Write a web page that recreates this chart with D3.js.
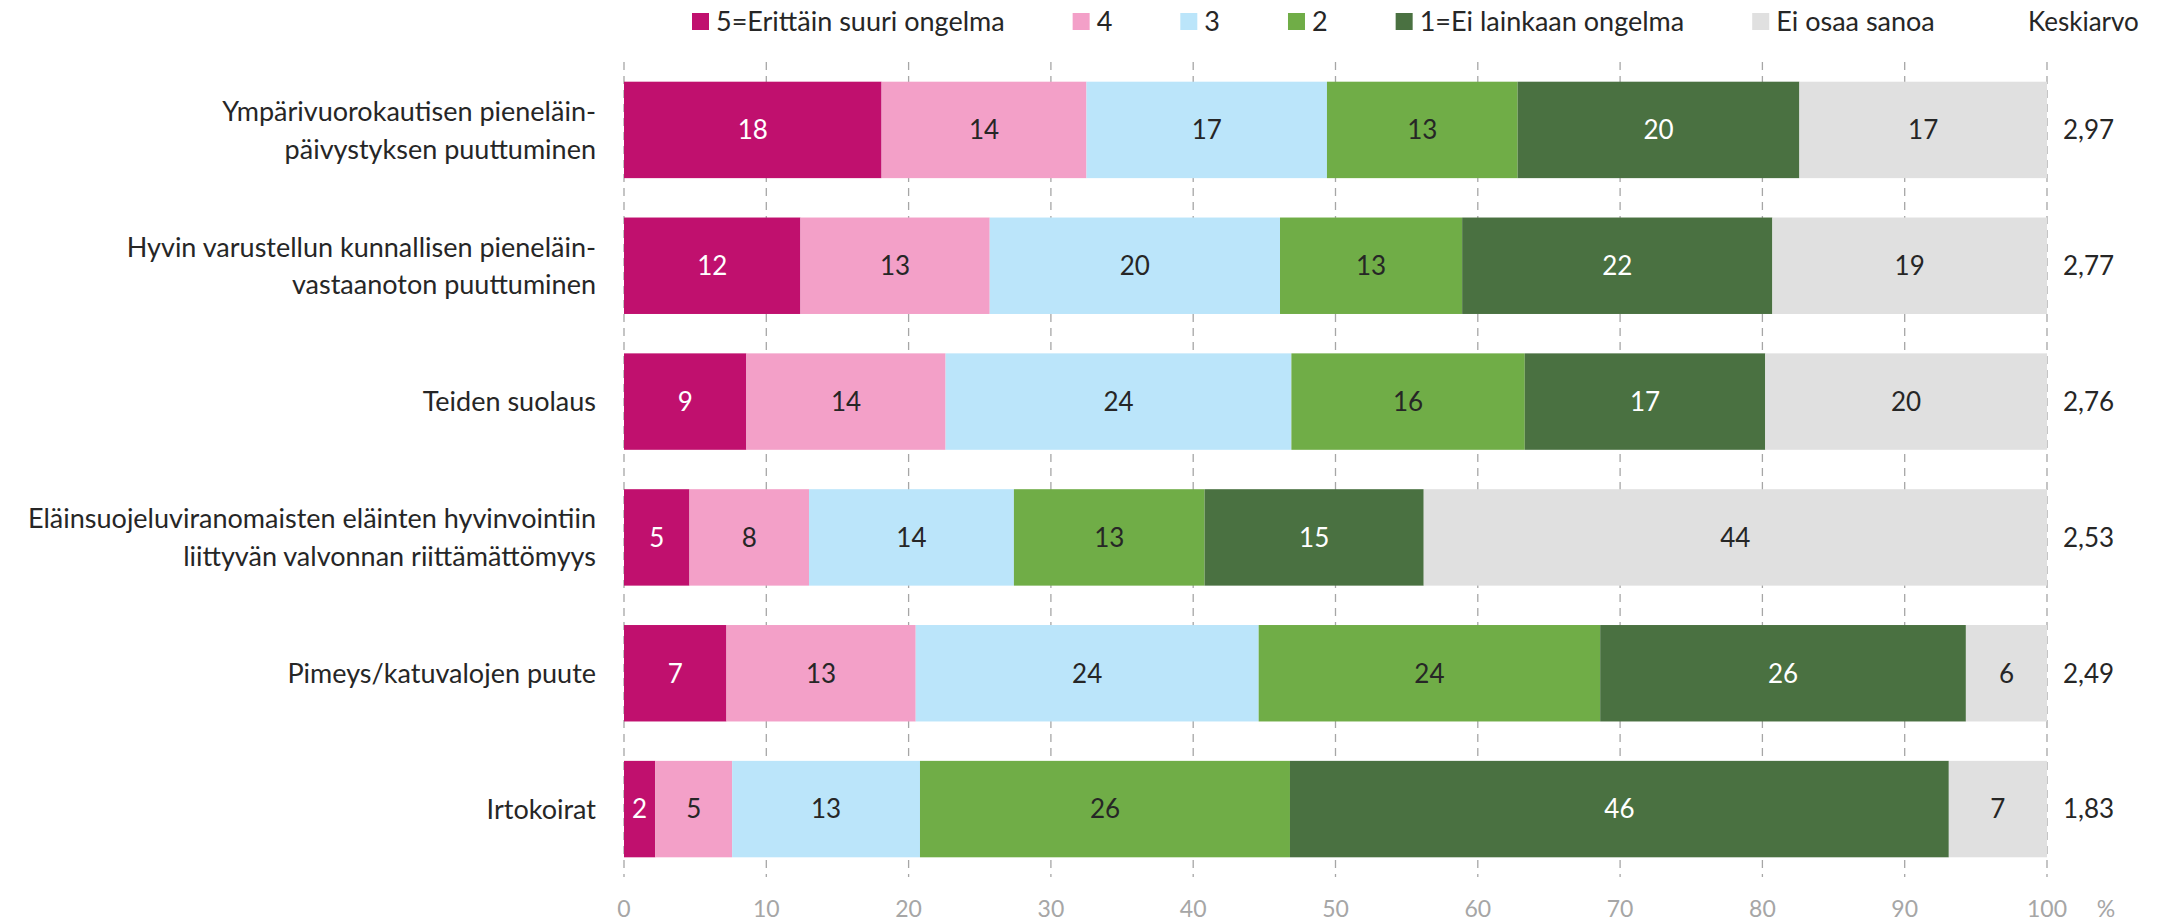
<!DOCTYPE html>
<html>
<head>
<meta charset="utf-8">
<script src="https://cdn.jsdelivr.net/npm/d3@7"></script>
<style>
  body { margin: 0; background: #fff; }
  svg text { font-family: Lato, "Open Sans", sans-serif; }
</style>
</head>
<body>
<svg id="canvas" width="2159" height="922"></svg>
<script>
// data
const categories = [
  ["Ympärivuorokautisen pieneläin-", "päivystyksen puuttuminen"],
  ["Hyvin varustellun kunnallisen pieneläin-", "vastaanoton puuttuminen"],
  ["Teiden suolaus"],
  ["Eläinsuojeluviranomaisten eläinten hyvinvointiin", "liittyvän valvonnan riittämättömyys"],
  ["Pimeys/katuvalojen puute"],
  ["Irtokoirat"]
];
const seriesNames = ["5=Erittäin suuri ongelma", "4", "3", "2", "1=Ei lainkaan ongelma", "Ei osaa sanoa"];
const s5 = [18.1, 12.4, 8.6, 4.6, 7.2, 2.2];
const s4 = [14.4, 13.3, 14.0, 8.4, 13.3, 5.4];
const s3 = [16.9, 20.4, 24.3, 14.4, 24.1, 13.2];
const s2 = [13.4, 12.8, 16.4, 13.4, 24.0, 26.0];
const s1 = [19.8, 21.8, 16.9, 15.4, 25.7, 46.3];
const sEOS = [17.4, 19.3, 19.8, 43.8, 5.7, 6.9];
const keskiarvo = ["2,97", "2,77", "2,76", "2,53", "2,49", "1,83"];
const xTicks = [0, 10, 20, 30, 40, 50, 60, 70, 80, 90, 100];

const colors = ["#c0106e", "#f3a0c8", "#bbe5fa", "#70ad47", "#4a7141", "#e0e0e0"];
const labelColors = ["#fff", "#262626", "#262626", "#262626", "#fff", "#262626"];
const fs = "26px";
const fsCat = "27px";

const svg = d3.select("#canvas");
const allSeries = [s5, s4, s3, s2, s1, sEOS];
const rows = categories.map((c, i) => {
  const o = { idx: i };
  allSeries.forEach((s, k) => o["k" + k] = s[i]);
  return o;
});
const keys = allSeries.map((s, k) => "k" + k);
const stacked = d3.stack().keys(keys)(rows);

const x = d3.scaleLinear().domain([0, 100]).range([624, 2047]);
const y = d3.scaleBand().domain(d3.range(categories.length)).range([62, 877])
  .paddingInner(0.29).paddingOuter(0.145);

// grid
svg.append("g").selectAll("line").data(xTicks).join("line")
  .attr("x1", d => x(d)).attr("x2", d => x(d))
  .attr("y1", 62).attr("y2", 877)
  .attr("stroke", "#a6a6a6").attr("stroke-width", 1.3)
  .attr("stroke-dasharray", "8,6");

// bars
const layer = svg.append("g").selectAll("g").data(stacked).join("g")
  .attr("fill", (d, k) => colors[k]);
layer.selectAll("rect").data(d => d).join("rect")
  .attr("x", d => x(d[0]))
  .attr("y", (d, i) => y(i))
  .attr("width", d => x(d[1]) - x(d[0]))
  .attr("height", y.bandwidth());

layer.each(function(s, k) {
  d3.select(this).selectAll("text").data(s).join("text")
    .attr("x", d => (x(d[0]) + x(d[1])) / 2)
    .attr("y", (d, i) => y(i) + y.bandwidth() / 2)
    .attr("dy", "0.36em")
    .attr("text-anchor", "middle")
    .attr("fill", labelColors[k])
    .style("font-size", fs)
    .text(d => Math.round(d[1] - d[0]));
});

// category labels
const cat = svg.append("g").selectAll("text").data(categories).join("text")
  .attr("text-anchor", "end")
  .attr("fill", "#262626")
  .style("font-size", fsCat)
  .attr("x", 596)
  .attr("y", (d, i) => y(i) + y.bandwidth() / 2);
cat.selectAll("tspan").data(d => d).join("tspan")
  .attr("x", 596)
  .attr("dy", (t, j, n) => j === 0 ? (0.36 - (n.length - 1) * 0.7) + "em" : "1.4em")
  .text(t => t);

// keskiarvo values
svg.append("g").selectAll("text").data(keskiarvo).join("text")
  .attr("x", 2063)
  .attr("y", (d, i) => y(i) + y.bandwidth() / 2)
  .attr("dy", "0.36em")
  .attr("fill", "#262626")
  .style("font-size", fs)
  .text(d => d);

// x axis labels
svg.append("g").selectAll("text").data(xTicks).join("text")
  .attr("x", d => x(d))
  .attr("y", 917)
  .attr("text-anchor", "middle")
  .attr("fill", "#a6a6a6")
  .style("font-size", "23px")
  .text(d => d);
svg.append("text").attr("x", 2106).attr("y", 917)
  .attr("text-anchor", "middle").attr("fill", "#a6a6a6").style("font-size", "23px").text("%");

// legend
const leg = svg.append("g");
let lx = 692;
seriesNames.forEach((n, k) => {
  leg.append("rect").attr("x", lx).attr("y", 13).attr("width", 17).attr("height", 17).attr("fill", colors[k]);
  const t = leg.append("text").attr("x", lx + 24).attr("y", 21.5).attr("dy", "0.36em")
    .attr("fill", "#262626").style("font-size", fsCat).text(n);
  lx += 24 + t.node().getComputedTextLength() + 68;
});
leg.append("text").attr("x", 2028).attr("y", 21.5).attr("dy", "0.36em")
  .attr("fill", "#262626").style("font-size", fs).text("Keskiarvo");
</script>
</body>
</html>
